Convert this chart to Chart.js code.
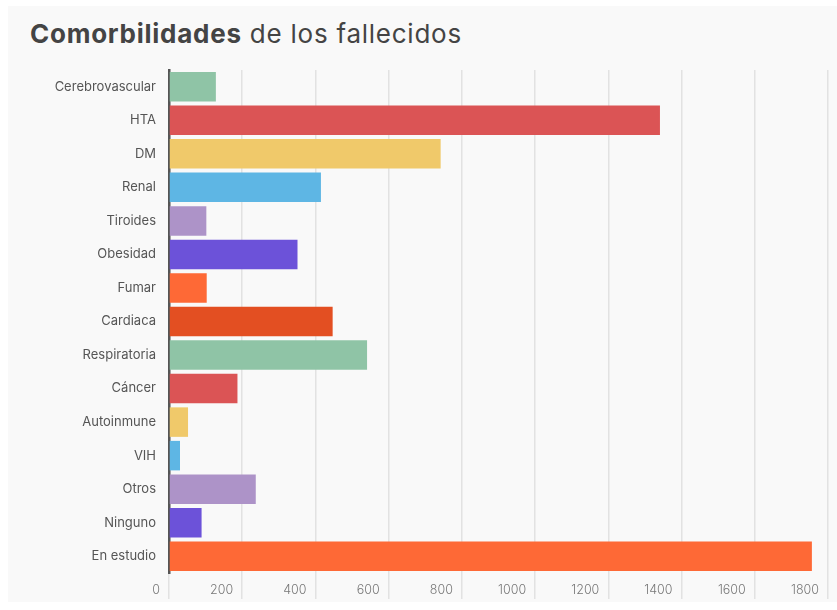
<!DOCTYPE html>
<html>
<head>
<meta charset="utf-8">
<script src="https://cdn.jsdelivr.net/npm/chart.js@4"></script>
<style>
    html, body { margin: 0; padding: 0; background: #ffffff; }
    #panel { position: absolute; left: 8px; top: 6px; width: 829px; height: 596px; background: #f9f9f9; }
    #title {
        position: absolute; left: 30px; top: 18px;
        font-family: Inter, "Open Sans", sans-serif; font-size: 26px; color: #444;
        letter-spacing: 0.75px;
    }
    #title b { font-weight: 700; }
    #title span { font-weight: 400; }
    #wrap { position: absolute; left: 0; top: 0; width: 837px; height: 610px; }
</style>
</head>
<body>
<div id="panel"></div>
<div id="title"><b>Comorbilidades</b><span> de los fallecidos</span></div>
<div id="wrap"><canvas id="chart" width="837" height="610"></canvas></div>
<script>
// datos
const categorias = ['Cerebrovascular', 'HTA', 'DM', 'Renal', 'Tiroides', 'Obesidad', 'Fumar',
    'Cardiaca', 'Respiratoria', 'Cáncer', 'Autoinmune', 'VIH', 'Otros', 'Ninguno', 'En estudio'];
const fallecidos = [128, 1341, 742, 415, 102, 351, 103, 447, 541, 187, 52, 30, 237, 89, 1756];
const colores = ['#8fc4a6', '#db5455', '#f0c96a', '#5eb6e4', '#ad93c8', '#6c52d9', '#fe6936',
    '#e34f22', '#8fc4a6', '#db5455', '#f0c96a', '#5eb6e4', '#ad93c8', '#6c52d9', '#fe6936'];
const ejeMax = 1800;
const ejePaso = 200;

const fuente = 'Inter, "Open Sans", sans-serif';

new Chart(document.getElementById('chart'), {
    type: 'bar',
    data: {
        labels: categorias,
        datasets: [{
            data: fallecidos,
            backgroundColor: colores,
            borderWidth: 0,
            categoryPercentage: 1,
            barPercentage: 0.88
        }]
    },
    options: {
        indexAxis: 'y',
        responsive: false,
        animation: false,
        layout: { padding: { top: 70, left: 8, right: 9, bottom: 0 } },
        plugins: { legend: { display: false }, tooltip: { enabled: false } },
        scales: {
            x: {
                min: 0,
                max: ejeMax,
                ticks: {
                    stepSize: ejePaso,
                    align: 'end',
                    labelOffset: -9,
                    padding: -16,
                    color: '#777',
                    font: { family: fuente, size: 12.5, weight: 300 },
                    callback: v => String(v)
                },
                grid: { color: '#e2e2e2', lineWidth: 1.5, tickLength: 26, tickColor: '#e2e2e2' },
                border: { display: false },
                afterFit: s => { s.height = 37; }
            },
            y: {
                ticks: {
                    padding: 13,
                    color: '#555',
                    font: { family: fuente, size: 13 }
                },
                grid: { display: false, drawTicks: false },
                border: { display: true, color: '#555', width: 2.5 },
                afterFit: s => { s.width = 161; }
            }
        }
    }
});
</script>
</body>
</html>
